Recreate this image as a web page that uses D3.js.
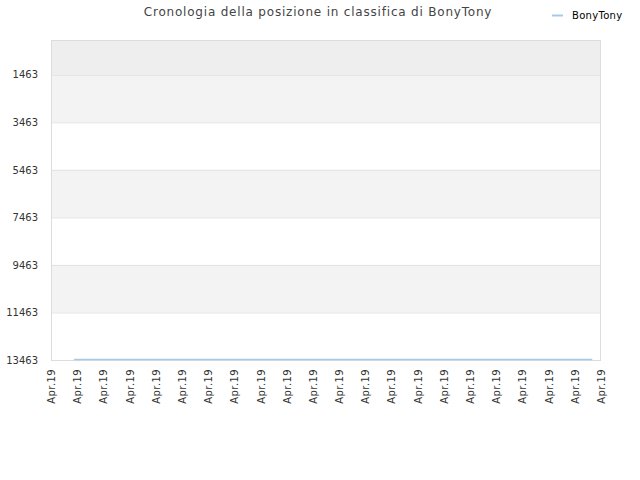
<!DOCTYPE html>
<html>
<head>
<meta charset="utf-8">
<script src="https://cdn.jsdelivr.net/npm/d3@7"></script>
<style>
  body { margin: 0; background: #fff; }
  text { font-family: "DejaVu Sans", sans-serif; }
</style>
</head>
<body>
<div id="chart"></div>
<script>
// chart data
var seriesName = "BonyTony";
var titleText = "Cronologia della posizione in classifica di BonyTony";
var yTicks = [1463, 3463, 5463, 7463, 9463, 11463, 13463];
var yDomain = [0, 13463];
var xDomain = ["2019-04-01T00:00", "2019-04-22T00:00"];
var pointDates = ["2019-04-01T21:00", "2019-04-06T12:00", "2019-04-11T12:00", "2019-04-16T12:00", "2019-04-21T16:00"];
var pointRanks = [13463, 13463, 13463, 13463, 13463];

var width = 640, height = 480;
var margin = {top: 40, right: 40, bottom: 120, left: 51};
var parse = d3.timeParse("%Y-%m-%dT%H:%M");

var svg = d3.select("#chart").append("svg")
    .attr("width", width)
    .attr("height", height);

var x = d3.scaleTime()
    .domain(xDomain.map(parse))
    .range([margin.left, width - margin.right + 1]);
var y = d3.scaleLinear()
    .domain(yDomain)
    .range([margin.top, height - margin.bottom]);

// background bands between ticks
var bandEdges = [yDomain[0]].concat(yTicks);
var bands = [];
for (var i = 0; i < bandEdges.length - 1; i++) {
    bands.push({from: bandEdges[i], to: bandEdges[i + 1], i: i});
}
svg.append("g").selectAll("rect")
    .data(bands)
    .enter().append("rect")
    .attr("x", margin.left)
    .attr("width", x.range()[1] - margin.left)
    .attr("y", function(d) { return y(d.from); })
    .attr("height", function(d) { return y(d.to) - y(d.from); })
    .attr("fill", function(d) {
        if (d.i == 0) return "#eeeeee";
        return d.i % 2 == 1 ? "#f3f3f3" : "#ffffff";
    });

// grid lines
svg.append("g").selectAll("line")
    .data(yTicks)
    .enter().append("line")
    .attr("x1", margin.left)
    .attr("x2", x.range()[1])
    .attr("y1", function(d) { return y(d) + 0.5; })
    .attr("y2", function(d) { return y(d) + 0.5; })
    .attr("stroke", "#e2e2e2");

// frame
svg.append("rect")
    .attr("x", margin.left + 0.5)
    .attr("y", margin.top + 0.5)
    .attr("width", x.range()[1] - margin.left - 1)
    .attr("height", y.range()[1] - margin.top)
    .attr("fill", "none")
    .attr("stroke", "#dcdcdc");

// y axis
var yAxis = d3.axisLeft(y).tickValues(yTicks).tickFormat(d3.format("d")).tickSize(0).tickPadding(13);
var gy = svg.append("g")
    .attr("transform", "translate(" + margin.left + ",0)")
    .call(yAxis);
gy.select(".domain").remove();
gy.selectAll("text")
    .attr("font-family", "DejaVu Sans")
    .attr("font-size", 10)
    .attr("fill", "#333");

// x axis
var xAxis = d3.axisBottom(x)
    .ticks(d3.timeDay.every(1))
    .tickFormat(d3.timeFormat("%b.%y"))
    .tickSize(0);
var gx = svg.append("g")
    .attr("transform", "translate(0," + (height - margin.bottom) + ")")
    .call(xAxis);
gx.select(".domain").remove();
gx.selectAll("text")
    .attr("font-family", "DejaVu Sans")
    .attr("font-size", 10)
    .attr("letter-spacing", 0.4)
    .attr("fill", "#333")
    .attr("text-anchor", "end")
    .attr("transform", "rotate(-90)")
    .attr("x", -9)
    .attr("y", 0)
    .attr("dy", "0.35em");

// series line
var pts = pointDates.map(function(d, i) { return {date: parse(d), rank: pointRanks[i]}; });
var line = d3.line()
    .x(function(d) { return x(d.date); })
    .y(function(d) { return y(d.rank) - 0.5; });
svg.append("path")
    .datum(pts)
    .attr("d", line)
    .attr("fill", "none")
    .attr("stroke", "#a6cbe8")
    .attr("stroke-width", 1.5);

// title
svg.append("text")
    .attr("x", 318)
    .attr("y", 16)
    .attr("text-anchor", "middle")
    .attr("font-size", 12)
    .attr("letter-spacing", 0.8)
    .attr("fill", "#444")
    .text(titleText);

// legend
var lg = svg.append("g").attr("transform", "translate(552,15)");
lg.append("line")
    .attr("x1", 0).attr("x2", 11)
    .attr("y1", 0.5).attr("y2", 0.5)
    .attr("stroke", "#a6cbe8")
    .attr("stroke-width", 2);
lg.append("text")
    .attr("x", 20)
    .attr("y", 0)
    .attr("dy", "0.35em")
    .attr("font-size", 10)
    .attr("letter-spacing", 0.3)
    .attr("fill", "#000")
    .text(seriesName);
</script>
</body>
</html>
